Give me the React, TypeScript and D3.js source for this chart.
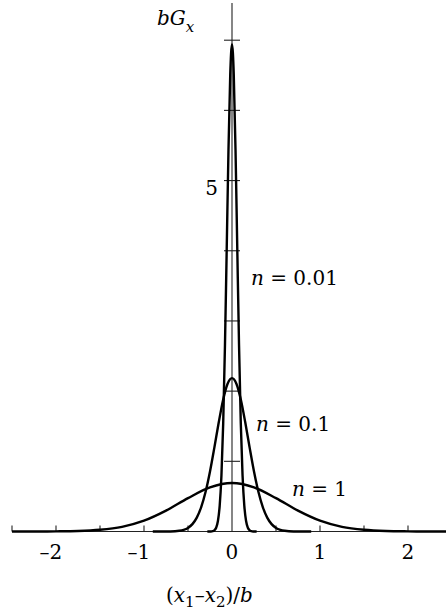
import React from "react";
import * as d3 from "d3";

// Points (x = (x1 - x2)/b, value = bG_x)
const xsN1 = [-2.5, -2.25, -2, -1.75, -1.5, -1.25, -1, -0.75, -0.5, -0.25, 0, 0.25, 0.5, 0.75, 1, 1.25, 1.5, 1.75, 2, 2.25, 2.5];
const gN1 = [0, 0.0003, 0.002, 0.007, 0.024, 0.066, 0.154, 0.297, 0.475, 0.628, 0.69, 0.628, 0.475, 0.297, 0.154, 0.066, 0.024, 0.007, 0.002, 0.0003, 0];

const xsN01 = [-0.9, -0.8, -0.7, -0.6, -0.55, -0.5, -0.45, -0.4, -0.35, -0.3, -0.25, -0.2, -0.15, -0.1, -0.05, 0, 0.05, 0.1, 0.15, 0.2, 0.25, 0.3, 0.35, 0.4, 0.45, 0.5, 0.55, 0.6, 0.7, 0.8, 0.9];
const gN01 = [0, 0, 0.001, 0.01, 0.023, 0.051, 0.105, 0.198, 0.348, 0.566, 0.856, 1.199, 1.559, 1.881, 2.105, 2.185, 2.105, 1.881, 1.559, 1.199, 0.856, 0.566, 0.348, 0.198, 0.105, 0.051, 0.023, 0.01, 0.001, 0, 0];

const xsN001 = [-0.28, -0.24, -0.22, -0.2, -0.18, -0.16, -0.14, -0.12, -0.1, -0.08, -0.06, -0.04, -0.02, 0, 0.02, 0.04, 0.06, 0.08, 0.1, 0.12, 0.14, 0.16, 0.18, 0.2, 0.22, 0.24, 0.28];
const gN001 = [0, 0.001, 0.005, 0.017, 0.054, 0.149, 0.365, 0.797, 1.54, 2.65, 4.03, 5.44, 6.51, 6.94, 6.51, 5.44, 4.03, 2.65, 1.54, 0.797, 0.365, 0.149, 0.054, 0.017, 0.005, 0.001, 0];

// ticks
const xTicks = [-2.5, -2, -1.5, -1, -0.5, 0.5, 1, 1.5, 2];
const xTickLabels = [-2, -1, 0, 1, 2];
const yTicks = [1, 2, 3, 4, 5, 6, 7];
const yTickLabels = [5];

const curveLabels = ["0.01", "0.1", "1"];

const FONT = "DejaVu Serif";

export default function App() {
  const width = 446;
  const height = 614;

  const x = d3.scaleLinear().domain([-2.5, 2.5]).range([12, 452]);
  const y = d3.scaleLinear().domain([0, 7.53]).range([531.5, 3]);

  const makePath = (xs: number[], gs: number[]) =>
    d3
      .line<number>()
      .x((_, i) => x(xs[i]))
      .y((d) => y(d))
      .curve(d3.curveMonotoneX)(gs) || "";

  const series = [
    { xs: xsN001, gs: gN001 },
    { xs: xsN01, gs: gN01 },
    { xs: xsN1, gs: gN1 },
  ];

  // label placement for each curve (left x, baseline y)
  const labelPos = [
    [251, 285],
    [256, 431],
    [292, 496],
  ];

  const x0 = x(0);
  const y0 = y(0);

  return (
    <svg
      width={width}
      height={height}
      style={{ position: "absolute", left: 0, top: 0, background: "#fff" }}
    >
      {/* axes */}
      <g stroke="#222" strokeWidth={1.1}>
        <line x1={x(-2.5)} x2={width} y1={y0} y2={y0} />
        {xTicks.map((t) => (
          <line key={t} x1={x(t)} x2={x(t)} y1={y0} y2={y0 - 6} />
        ))}
        <line x1={x0} x2={x0} y1={y0} y2={y.range()[1]} />
        {yTicks.map((t) => (
          <line key={t} x1={x0 - 8} x2={x0 + 8} y1={y(t)} y2={y(t)} />
        ))}
      </g>

      <g fontFamily={FONT} fill="#000">
        {/* tick labels */}
        <g fontSize={20}>
          {xTickLabels.map((t) => (
            <text key={t} x={x(t) + 6.2} y={559} textAnchor="end">
              {t < 0 ? "\u2013" + Math.abs(t) : t}
            </text>
          ))}
          {yTickLabels.map((t) => (
            <text key={t} x={218} y={y(t) + 14.5} textAnchor="end">
              {t}
            </text>
          ))}
        </g>

        {/* curve labels */}
        <g fontSize={20}>
          {curveLabels.map((l, i) => (
            <text key={l} x={labelPos[i][0]} y={labelPos[i][1]}>
              <tspan fontStyle="italic">n</tspan>
              {" = " + l}
            </text>
          ))}
        </g>

        {/* y axis title */}
        <text x={157} y={25} fontSize={20} fontStyle="italic">
          bG
          <tspan fontSize={15} dy={7}>
            x
          </tspan>
        </text>

        {/* x axis title */}
        <text x={166} y={602} fontSize={20}>
          (<tspan fontStyle="italic">x</tspan>
          <tspan fontSize={15} dy={5}>1</tspan>
          <tspan dy={-5}>{"\u2013"}</tspan>
          <tspan fontStyle="italic">x</tspan>
          <tspan fontSize={15} dy={5}>2</tspan>
          <tspan dy={-5}>)/</tspan>
          <tspan fontStyle="italic">b</tspan>
        </text>
      </g>

      {/* curves */}
      <g fill="none" stroke="#000" strokeWidth={2.4} strokeLinejoin="round">
        {series.map((s, i) => (
          <path key={i} d={makePath(s.xs, s.gs)} />
        ))}
      </g>
    </svg>
  );
}
